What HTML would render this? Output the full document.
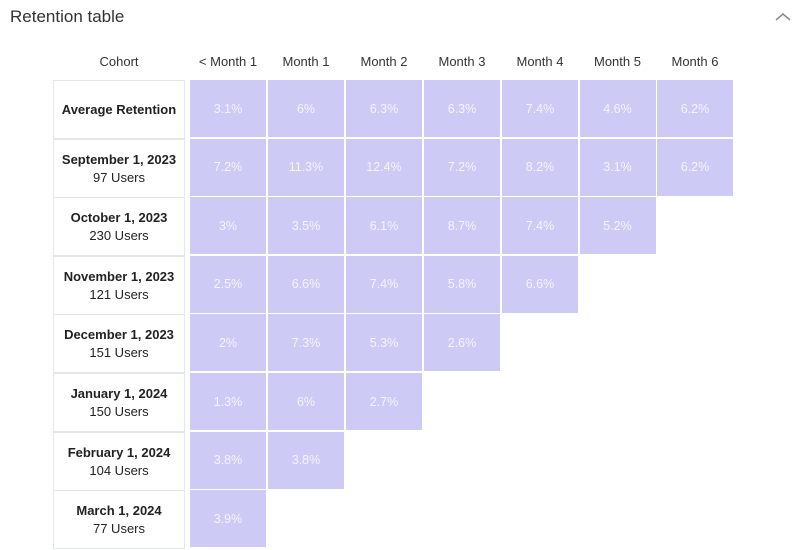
<!DOCTYPE html>
<html><head><style>
body{margin:0;width:800px;height:550px;background:#fff;font-family:"Liberation Sans",sans-serif;position:relative;overflow:hidden}
.t{position:absolute;left:10px;top:7px;font-size:17px;color:#333}
.h{position:absolute;top:54px;font-size:13px;color:#333;text-align:center;width:78px}
.c{position:absolute;left:53px;width:132px;border:1px solid #e3e6ec;background:#fff;display:flex;flex-direction:column;justify-content:center;align-items:center;font-size:13px;color:#222;box-sizing:border-box}
.c b{font-weight:bold}
.v{position:absolute;width:76px;background:#cdcaf5;color:#f4f3ff;font-size:12.5px;display:flex;align-items:center;justify-content:center}
</style></head><body>
<div class="t">Retention table</div>
<svg style="position:absolute;left:775px;top:12px" width="16" height="10"><path d="M1 8 L8 2 L15 8" stroke="#888" stroke-width="1.5" fill="none"/></svg>
<div id="r"></div>
<script>
var hd=["< Month 1","Month 1","Month 2","Month 3","Month 4","Month 5","Month 6"];
var rows=[["Average Retention","",["3.1%","6%","6.3%","6.3%","7.4%","4.6%","6.2%"]],
["September 1, 2023","97 Users",["7.2%","11.3%","12.4%","7.2%","8.2%","3.1%","6.2%"]],
["October 1, 2023","230 Users",["3%","3.5%","6.1%","8.7%","7.4%","5.2%"]],
["November 1, 2023","121 Users",["2.5%","6.6%","7.4%","5.8%","6.6%"]],
["December 1, 2023","151 Users",["2%","7.3%","5.3%","2.6%"]],
["January 1, 2024","150 Users",["1.3%","6%","2.7%"]],
["February 1, 2024","104 Users",["3.8%","3.8%"]],
["March 1, 2024","77 Users",["3.9%"]]];
var s='<div class="h" style="left:80px">Cohort</div>';
var cx=[190,268,346,424,502,579.5,657];
hd.forEach(function(h,i){s+='<div class="h" style="left:'+(cx[i]-1)+'px">'+h.replace('<','&lt;')+'</div>';});
rows.forEach(function(r,i){var y=80+i*58.6;
s+='<div class="c" style="top:'+y+'px;height:59px"><b>'+r[0]+'</b>'+(r[1]?'<span style="margin-top:3px">'+r[1]+'</span>':'')+'</div>';
r[2].forEach(function(v,j){s+='<div class="v" style="left:'+cx[j]+'px;top:'+y+'px;height:57px">'+v+'</div>';});});
document.getElementById('r').innerHTML=s;
</script>
</body></html>
